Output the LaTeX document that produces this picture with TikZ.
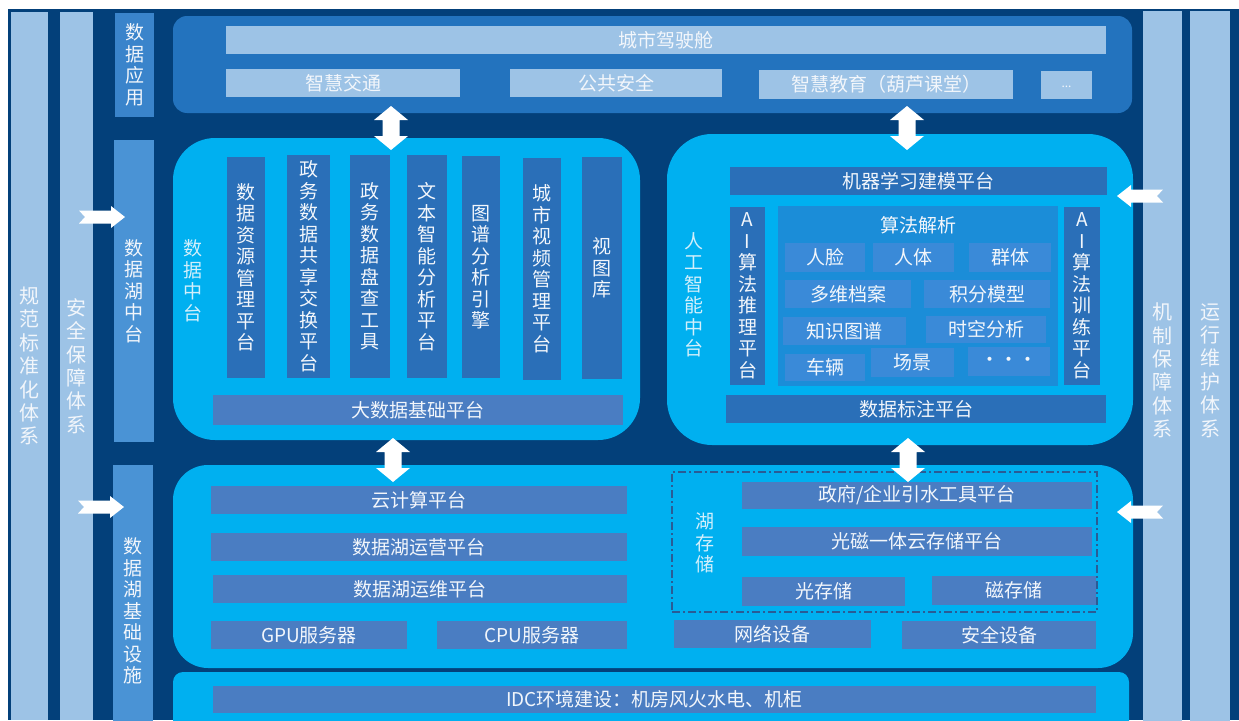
\documentclass[tikz,border=0pt]{standalone}
\usepackage{fontspec}
\setmainfont{Noto Sans CJK SC}
\definecolor{navy}{HTML}{03407A}
\definecolor{lstrip}{HTML}{9DC3E6}
\definecolor{mstrip}{HTML}{4A93D5}
\definecolor{astrip}{HTML}{3A84CB}
\definecolor{appblue}{HTML}{2373BE}
\definecolor{cyanp}{HTML}{00B0F0}
\definecolor{darkbar}{HTML}{2A6FB8}
\definecolor{greybar}{HTML}{4A7DC2}
\definecolor{algbox}{HTML}{1B8DD8}
\definecolor{itembox}{HTML}{3A8AD8}
\definecolor{txt}{HTML}{F2F6FB}
\definecolor{labtxt}{HTML}{D2EFFB}
\definecolor{dashc}{HTML}{2A5C95}
\newcommand\bx[7]{\node[#6,anchor=north west,minimum width={(#4)-(#2)},minimum height={(#5)-(#3)}] (#1) at (#2,#3) {#7};}
\tikzset{
 every node/.style={inner sep=0pt, outer sep=0pt},
 txtbase/.style={text=txt, align=center, font=\fontsize{19}{21.5}\selectfont},
 stripbox/.style={txtbase, fill=lstrip, font=\fontsize{20}{23.4}\selectfont},
 sidebox/.style={txtbase, fill=mstrip},
 appsidebox/.style={txtbase, fill=astrip},
 apppanel/.style={fill=appblue, rounded corners=14pt},
 appbox/.style={txtbase, fill=lstrip},
 cpanel/.style={fill=cyanp},
 dbar/.style={txtbase, fill=darkbar},
 gbar/.style={txtbase, fill=greybar},
 algpanel/.style={txtbase, fill=algbox},
 algitem/.style={txtbase, fill=itembox},
 plabel/.style={text=labtxt, align=center, font=\fontsize{19}{21.5}\selectfont},
 vdarrow/.pic={\fill[white] (0,-22) -- (17,-8) -- (8.5,-8) -- (8.5,8) -- (17,8) -- (0,22) -- (-17,8) -- (-8.5,8) -- (-8.5,-8) -- (-17,-8) -- cycle;},
 rarrow/.pic={\fill[white] (-23,-6.5) -- (9,-6.5) -- (9,-11) -- (23,0) -- (9,11) -- (9,6.5) -- (-23,6.5) -- (-17,0) -- cycle;},
 larrow/.pic={\fill[white] (23,-6.5) -- (-9,-6.5) -- (-9,-11) -- (-23,0) -- (-9,11) -- (-9,6.5) -- (23,6.5) -- (17,0) -- cycle;},
}
\begin{document}
\begin{tikzpicture}[x=1pt,y=-1pt]
\useasboundingbox (0,0) rectangle (1239,720);
\clip (0,0) rectangle (1239,720);
\fill[white] (0,0) rectangle (1239,720);
\fill[navy] (8,9) rectangle (1239,720);
% outer strips
\bx{s1}{11}{12}{48}{720}{stripbox}{规\\范\\标\\准\\化\\体\\系}
\bx{s2}{60}{12}{93}{720}{stripbox}{安\\全\\保\\障\\体\\系}
\bx{s3}{1143}{11}{1182}{730}{stripbox}{机\\制\\保\\障\\体\\系}
\bx{s4}{1190}{11}{1230}{730}{stripbox}{运\\行\\维\\护\\体\\系}
% layer labels
\bx{l1}{115}{13}{154}{117}{appsidebox}{数\\据\\应\\用}
\bx{l2}{114}{140}{154}{442}{sidebox}{数\\据\\湖\\中\\台}
\bx{l3}{113}{465}{153}{757}{sidebox}{数\\据\\湖\\基\\础\\设\\施}
% application panel
\bx{app}{173}{16}{1132}{113}{apppanel}{}
\bx{cockpit}{226}{26}{1106}{54}{appbox}{城市驾驶舱}
\bx{traffic}{226}{69}{460}{97}{appbox}{智慧交通}
\bx{safety}{510}{69}{722}{97}{appbox}{公共安全}
\bx{edu}{759}{70}{1013}{99}{appbox}{智慧教育（葫芦课堂）}
\bx{more}{1041}{71}{1092}{99}{appbox,font=\fontsize{12}{14}\selectfont}{\raisebox{-5pt}{...}}
% data middle platform
\bx{dmp}{173}{138}{640}{440}{cpanel,rounded corners=42pt}{}
\node[plabel] (dmplbl) at (193,281) {数\\据\\中\\台};
\bx{b1}{227}{157}{265}{378}{dbar}{数\\据\\资\\源\\管\\理\\平\\台}
\bx{b2}{287}{155}{330}{378}{dbar}{政\\务\\数\\据\\共\\享\\交\\换\\平\\台}
\bx{b3}{350}{155}{390}{378}{dbar}{政\\务\\数\\据\\盘\\查\\工\\具}
\bx{b4}{407}{155}{447}{378}{dbar}{文\\本\\智\\能\\分\\析\\平\\台}
\bx{b5}{462}{156}{500}{378}{dbar}{图\\谱\\分\\析\\引\\擎}
\bx{b6}{523}{158}{561}{380}{dbar}{城\\市\\视\\频\\管\\理\\平\\台}
\bx{b7}{582}{157}{622}{379}{dbar}{视\\图\\库}
\bx{bigdata}{213}{395}{623}{425}{gbar}{大数据基础平台}
% AI middle platform
\bx{aip}{667}{134}{1133}{445}{cpanel,rounded corners=45pt}{}
\node[plabel] (aiplbl) at (694,295) {人\\工\\智\\能\\中\\台};
\bx{ml}{730}{167}{1107}{195}{dbar}{机器学习建模平台}
\bx{infer}{730}{207}{765}{385}{dbar}{A\\I\\算\\法\\推\\理\\平\\台}
\bx{algo}{778}{206}{1058}{386}{algpanel}{}
\node[txtbase] (algotitle) at (918,225) {算法解析};
\bx{train}{1064}{207}{1100}{385}{dbar}{A\\I\\算\\法\\训\\练\\平\\台}
\bx{face}{785}{243}{865}{272}{algitem}{人脸}
\bx{body}{873}{243}{954}{272}{algitem}{人体}
\bx{group}{969}{243}{1051}{272}{algitem}{群体}
\bx{archive}{785}{280}{911}{308}{algitem}{多维档案}
\bx{score}{924}{280}{1050}{308}{algitem}{积分模型}
\bx{graph}{783}{317}{906}{345}{algitem}{知识图谱}
\bx{spacetime}{926}{316}{1046}{343}{algitem}{时空分析}
\bx{vehicle}{785}{354}{865}{381}{algitem}{车辆}
\bx{scene}{871}{348}{954}{377}{algitem}{场景}
\bx{etc}{968}{347}{1050}{376}{algitem}{\raisebox{-5pt}{・・・}}
\bx{label}{726}{395}{1106}{423}{dbar}{数据标注平台}
% infrastructure panel
\bx{infra}{173}{465}{1133}{668}{cpanel,rounded corners=35pt}{}
\bx{cloud}{211}{486}{627}{514}{gbar}{云计算平台}
\bx{ops}{211}{533}{627}{561}{gbar}{数据湖运营平台}
\bx{maint}{213}{575}{627}{603}{gbar}{数据湖运维平台}
\bx{gpu}{211}{621}{407}{649}{gbar}{GPU服务器}
\bx{cpu}{437}{621}{627}{649}{gbar}{CPU服务器}
\node[draw=dashc, line width=1.2pt, dash pattern=on 8pt off 3pt on 2pt off 3pt, anchor=north west, minimum width=425, minimum height=140] (lake) at (672,472) {};
\node[plabel] (lakelbl) at (705,543) {湖\\存\\储};
\bx{gov}{742}{482}{1092}{509}{gbar}{政府/企业引水工具平台}
\bx{store}{742}{527}{1092}{556}{gbar}{光磁一体云存储平台}
\bx{optical}{742}{577}{905}{606}{gbar}{光存储}
\bx{magnetic}{932}{576}{1096}{605}{gbar}{磁存储}
\bx{net}{674}{620}{871}{648}{gbar}{网络设备}
\bx{secdev}{902}{621}{1096}{649}{gbar}{安全设备}
% IDC
\bx{idcp}{173}{672}{1129}{740}{cpanel,rounded corners=10pt}{}
\bx{idc}{213}{686}{1096}{713}{gbar}{IDC环境建设：机房风火水电、机柜}
% arrows
\pic at (391,128) {vdarrow};
\pic at (907,128) {vdarrow};
\pic at (393,460) {vdarrow};
\pic at (908,460) {vdarrow};
\pic at (102,217) {rarrow};
\pic at (101,507) {rarrow};
\pic at (1140,196) {larrow};
\pic at (1140,512) {larrow};
\end{tikzpicture}
\end{document}
